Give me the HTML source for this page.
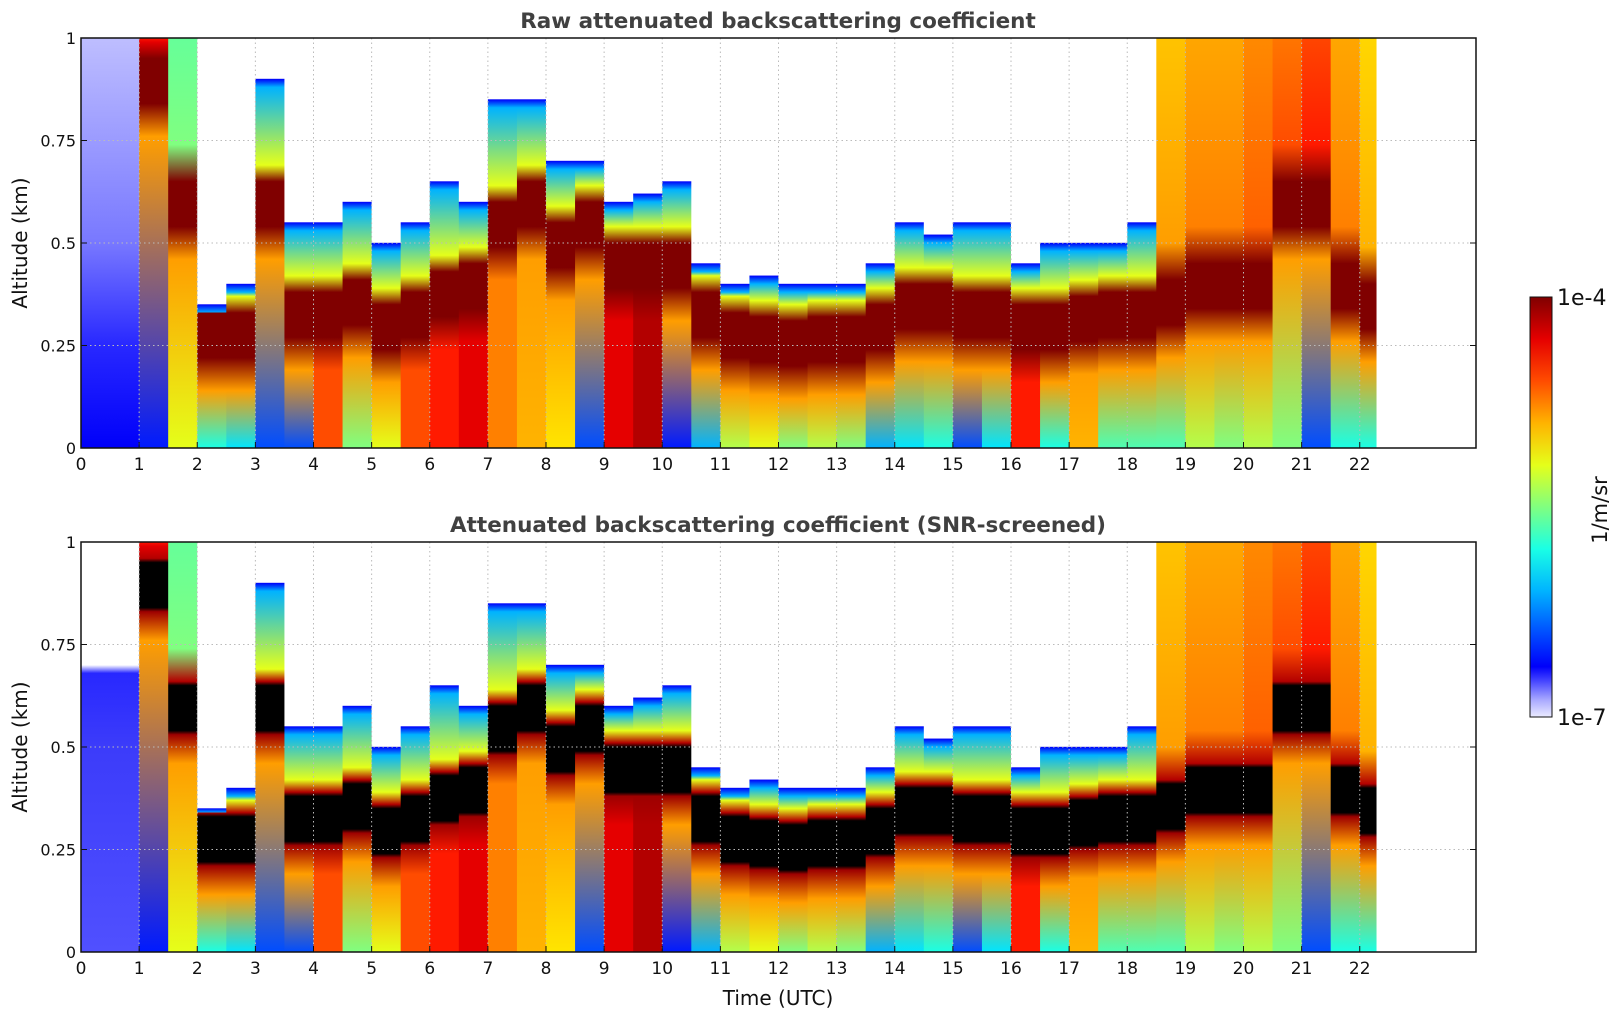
<!DOCTYPE html>
<html><head><meta charset="utf-8">
<style>
body{margin:0;background:#fff;}
svg{display:block;font-family:"DejaVu Sans","Liberation Sans",sans-serif;}
</style></head>
<body>
<svg id="chart" width="1621" height="1020" viewBox="0 0 1621 1020" xmlns="http://www.w3.org/2000/svg">
<defs id="defs"></defs>
<rect x="0" y="0" width="1621" height="1020" fill="#fff"/>
<text x="778" y="28" text-anchor="middle" font-size="21.5" font-weight="bold" fill="#404040">Raw attenuated backscattering coefficient</text>
<text x="778" y="532" text-anchor="middle" font-size="21.5" font-weight="bold" fill="#404040">Attenuated backscattering coefficient (SNR-screened)</text>
<g id="p1"></g>
<g id="p2"></g>
<text transform="translate(27,243) rotate(-90)" text-anchor="middle" font-size="20" fill="#111">Altitude (km)</text>
<text transform="translate(27,747) rotate(-90)" text-anchor="middle" font-size="20" fill="#111">Altitude (km)</text>
<text x="778" y="1005" text-anchor="middle" font-size="20" fill="#111">Time (UTC)</text>
<g id="cbar"></g>
</svg>
<script>
// ---- data (0.5 h columns) ----
const times   = [0,0.5,1,1.5,2,2.5,3,3.5,4,4.5,5,5.5,6,6.5,7,7.5,8,8.5,9,9.5,10,10.5,11,11.5,12,12.5,13,13.5,14,14.5,15,15.5,16,16.5,17,17.5,18,18.5,19,19.5,20,20.5,21,21.5,22];
const layerAlt= [0,0,0.9,0.6,0.28,0.28,0.6,0.33,0.33,0.36,0.3,0.33,0.38,0.4,0.55,0.6,0.5,0.55,0.45,0.45,0.45,0.33,0.28,0.27,0.26,0.27,0.27,0.3,0.35,0.35,0.33,0.33,0.3,0.3,0.32,0.33,0.33,0.36,0.4,0.4,0.4,0.6,0.6,0.4,0.35];
const topAlt  = [1,1,1,1,0.35,0.4,0.9,0.55,0.55,0.6,0.5,0.55,0.65,0.6,0.85,0.85,0.7,0.7,0.6,0.62,0.65,0.45,0.4,0.42,0.4,0.4,0.4,0.45,0.55,0.52,0.55,0.55,0.45,0.5,0.5,0.5,0.55,1,1,1,1,1,1,1,1];
const surface = [0.15,0.15,0.15,0.6,0.4,0.35,0.2,0.2,0.8,0.5,0.6,0.8,0.85,0.9,0.75,0.7,0.65,0.2,0.9,0.95,0.15,0.3,0.55,0.6,0.5,0.55,0.5,0.3,0.35,0.4,0.2,0.35,0.85,0.4,0.7,0.45,0.45,0.45,0.55,0.5,0.55,0.5,0.2,0.4,0.4];
const upper   = [0.12,0.12,0.9,0.5,0.5,0.5,0.8,0.5,0.5,0.5,0.5,0.5,0.5,0.5,0.6,0.6,0.5,0.5,0.5,0.5,0.5,0.5,0.5,0.5,0.5,0.5,0.5,0.5,0.5,0.5,0.5,0.5,0.5,0.5,0.5,0.5,0.5,0.72,0.75,0.75,0.78,0.8,0.85,0.75,0.7];
const xTicks = [0,1,2,3,4,5,6,7,8,9,10,11,12,13,14,15,16,17,18,19,20,21,22];
const yTicks = [0,0.25,0.5,0.75,1];
const yTickLabels = ["0","0.25","0.5","0.75","1"];
const tEnd = 22.28;

const NS="http://www.w3.org/2000/svg";
const X0=81,X1=1476;
const xs=t=>X0+t*(X1-X0)/24;
function mk(tag,attrs,parent){const e=document.createElementNS(NS,tag);for(const k in attrs)e.setAttribute(k,attrs[k]);parent.appendChild(e);return e;}
function cl(v){return Math.max(0,Math.min(1,v));}
function jet(v){v=cl(v);const r=cl(1.5-Math.abs(4*v-3)),g=cl(1.5-Math.abs(4*v-2)),b=cl(1.5-Math.abs(4*v-1));return `rgb(${Math.round(r*255)},${Math.round(g*255)},${Math.round(b*255)})`;}
const defs=document.getElementById('defs');

function panel(gid,Y0,Y1,screened){
  const g=document.getElementById(gid);
  const ys=a=>Y1-a*(Y1-Y0);
  times.forEach((t,i)=>{
    const id=gid+'g'+i;
    const lg=mk('linearGradient',{id:id,x1:0,y1:1,x2:0,y2:0},defs);
    const stops=[];
    const L=layerAlt[i],T=topAlt[i],S=surface[i],U=upper[i];
    if(L===0){
      if(screened){stops.push([0,'rgb(80,80,255)'],[0.5,'rgb(60,60,250)'],[0.68,'rgb(40,40,255)'],[0.7,'#fff'],[1,'#fff']);}
      else{stops.push([0,jet(0.12)],[0.25,'rgb(40,40,255)'],[0.5,'rgb(120,120,255)'],[1,'rgb(190,190,255)']);}
    } else {
      stops.push([0,jet(S)]);
      stops.push([Math.max(0.01,L-0.14),jet(Math.max(S,0.72))]);
      if(screened){stops.push([L-0.07,jet(0.97)],[L-0.06,'#000'],[L+0.05,'#000'],[L+0.06,jet(0.95)]);}
      else{stops.push([L-0.06,jet(1)],[L+0.05,jet(1)]);}
      if(T>=0.99){stops.push([Math.min(0.99,L+0.14),jet(U)],[1,jet(U*0.95)]);}
      else{
        stops.push([Math.min(T-0.03,L+0.09),jet(0.6)],[T-0.02,jet(0.3)],[T,jet(0.12)]);
        stops.push([T+0.001,'#fff'],[1,'#fff']);
      }
    }
    stops.forEach(s=>mk('stop',{offset:cl(s[0]),'stop-color':s[1]},lg));
    const t2=Math.min(t+0.5,tEnd);
    const r=mk('rect',{x:xs(t),y:Y0,width:xs(t2)-xs(t)+0.5,height:Y1-Y0,fill:`url(#${id})`},g);
    
    
  });
  xTicks.forEach(v=>{if(v>0){const l=mk('line',{x1:xs(v),x2:xs(v),y1:Y0,y2:Y1,stroke:'#bbb','stroke-dasharray':'1.5,3','stroke-width':1},g);}});
  yTicks.forEach(v=>{if(v>0&&v<1){const l=mk('line',{x1:X0,x2:X1,y1:ys(v),y2:ys(v),stroke:'#bbb','stroke-dasharray':'1.5,3','stroke-width':1},g);}});
  const fr=mk('rect',{x:X0,y:Y0,width:X1-X0,height:Y1-Y0,fill:'none',stroke:'#111','stroke-width':1.5},g);
  
  
  xTicks.forEach(v=>{
    mk('line',{x1:xs(v),x2:xs(v),y1:Y1,y2:Y1-6,stroke:'#111'},g);
    const tx=mk('text',{x:xs(v),y:Y1+22,'text-anchor':'middle','font-size':17,fill:'#111'},g);
    tx.textContent=v;
    
    
  });
  yTicks.forEach((v,k)=>{
    mk('line',{x1:X0,x2:X0+6,y1:ys(v),y2:ys(v),stroke:'#111'},g);
    mk('line',{x1:X1,x2:X1-6,y1:ys(v),y2:ys(v),stroke:'#111'},g);
    const tx=mk('text',{x:X0-5,y:ys(v)+6,'text-anchor':'end','font-size':16,fill:'#111'},g);
    tx.textContent=yTickLabels[k];
    
    
  });
}
panel('p1',38,448,false);
panel('p2',542,952,true);

const cb=document.getElementById('cbar');
const cg=mk('linearGradient',{id:'cbg',x1:0,y1:1,x2:0,y2:0},defs);
[[0,'rgb(235,235,255)'],[0.04,'rgb(170,170,255)'],[0.09,'rgb(60,60,255)'],[0.12,jet(0.12)]].forEach(s=>mk('stop',{offset:s[0],'stop-color':s[1]},cg));
for(let k=2;k<=10;k++){const v=k/10;mk('stop',{offset:v,'stop-color':jet(v)},cg);}
const cr=mk('rect',{x:1530,y:297,width:22,height:420,fill:'url(#cbg)',stroke:'#111','stroke-width':1},cb);


const c1=mk('text',{x:1557,y:305,'font-size':22,fill:'#111'},cb);c1.textContent='1e-4';


const c2=mk('text',{x:1557,y:725,'font-size':22,fill:'#111'},cb);c2.textContent='1e-7';


const c3=mk('text',{transform:'translate(1607,510) rotate(-90)','text-anchor':'middle','font-size':21,fill:'#111'},cb);c3.textContent='1/m/sr';


</script>
</body></html>
